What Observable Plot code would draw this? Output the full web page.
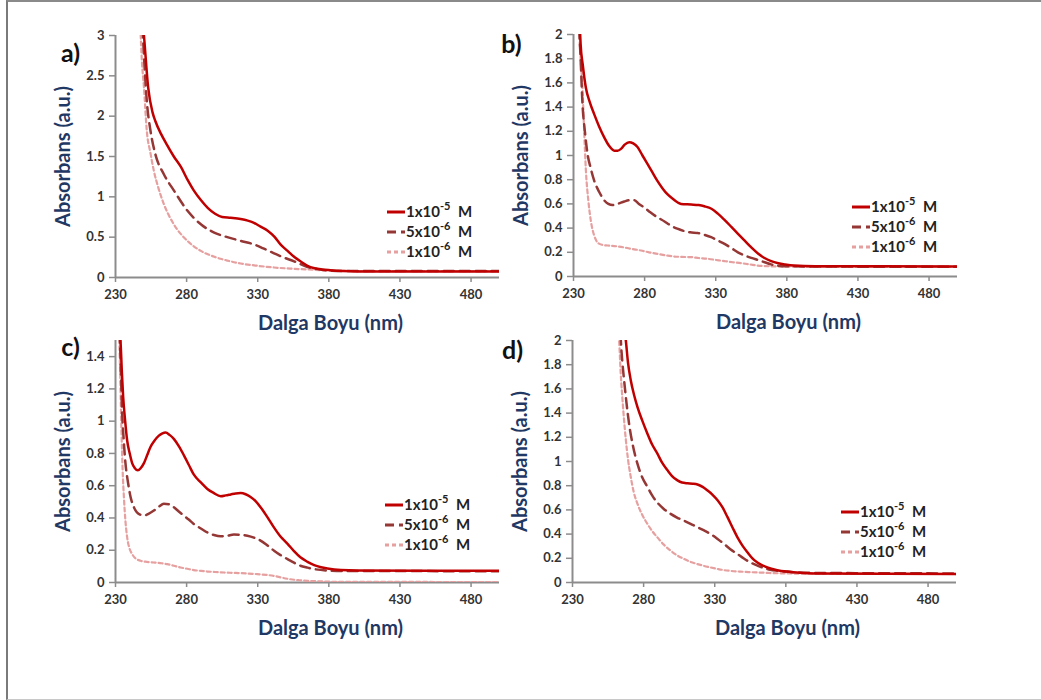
<!DOCTYPE html>
<html>
<head>
<meta charset="utf-8">
<script src="https://cdn.jsdelivr.net/npm/d3@7"></script>
<script src="https://cdn.jsdelivr.net/npm/@observablehq/plot@0.6"></script>
<style>
  html, body { margin: 0; padding: 0; background: #fff; }
  #wrap { position: relative; width: 1041px; height: 700px; overflow: hidden; font-family: Lato, "Open Sans", sans-serif; }
  #frame { position: absolute; left: 6px; top: 0; width: 1100px; height: 697px; border-left: 2px solid #7a7a7a; border-top: 2px solid #8a8a8a; border-bottom: 1px solid #c8c8c8; }
  .panel { position: absolute; }
</style>
</head>
<body>
<div id="wrap"><div id="frame"></div></div>
<script>
// ---------- data (wavelength nm, absorbance) ----------
const xTicks = [230, 280, 330, 380, 430, 480];
const yTicksA = [0, 0.5, 1, 1.5, 2, 2.5, 3];
const yTicksB = [0, 0.2, 0.4, 0.6, 0.8, 1, 1.2, 1.4, 1.6, 1.8, 2];
const yTicksC = [0, 0.2, 0.4, 0.6, 0.8, 1, 1.2, 1.4];
const yTicksD = [0, 0.2, 0.4, 0.6, 0.8, 1, 1.2, 1.4, 1.6, 1.8, 2];
const seriesNames = ["1x10|-5", "5x10|-6", "1x10|-6"];
const panelLetters = ["a)", "b)", "c)", "d)"];
const xTitle = "Dalga Boyu (nm)";
const yTitle = "Absorbans (a.u.)";

const a1e5 = [[249.5,3.1],[250,3.0],[253,2.35],[256,2.05],[258,1.94],[262,1.78],[266,1.65],[271,1.5],[276,1.37],[281,1.2],[285,1.08],[290,0.96],[295,0.86],[300,0.79],[305,0.75],[311,0.74],[318,0.725],[323,0.705],[327,0.68],[332,0.63],[337,0.58],[342,0.5],[346,0.41],[351,0.33],[356,0.25],[361,0.19],[365,0.145],[370,0.115],[375,0.10],[381,0.09],[390,0.08],[400,0.075],[500,0.075]];
const a5e6 = [[249,3.1],[250,2.75],[252,2.19],[254.6,1.82],[258,1.53],[264,1.28],[271,1.08],[280.5,0.83],[290,0.66],[299,0.56],[308.6,0.50],[318,0.455],[327.4,0.41],[334,0.36],[341.5,0.30],[348,0.25],[355.6,0.20],[365,0.13],[374,0.10],[381,0.085],[390,0.08],[500,0.08]];
const a1e6 = [[247.5,3.1],[248.5,2.7],[250,2.36],[252,1.82],[254.5,1.55],[257,1.32],[260,1.12],[264,0.91],[271,0.66],[280.5,0.455],[290,0.33],[299,0.26],[308.6,0.21],[318,0.174],[330,0.145],[341.5,0.124],[353,0.11],[365,0.10],[380,0.085],[400,0.08],[500,0.08]];

const b1e5 = [[234.5,2.05],[235,1.92],[236.5,1.75],[238.7,1.56],[241.5,1.44],[244.6,1.34],[248,1.24],[251.6,1.15],[255,1.08],[258.7,1.04],[261,1.04],[263.4,1.055],[266,1.09],[269.2,1.11],[272,1.1],[275,1.07],[278.5,1.0],[282,0.93],[285.5,0.86],[289,0.79],[292.5,0.73],[296,0.68],[300,0.64],[305.6,0.60],[312.7,0.595],[318,0.59],[322,0.58],[327,0.56],[331.5,0.52],[336,0.47],[341,0.41],[345.5,0.355],[350,0.30],[355,0.24],[359.7,0.19],[364,0.155],[369,0.127],[374,0.11],[378.5,0.10],[385,0.09],[400,0.085],[500,0.083]];
const b5e6 = [[234,2.05],[235,1.8],[236.3,1.43],[238,1.2],[239.9,1.01],[242,0.9],[244.6,0.79],[248,0.7],[251.6,0.63],[254.5,0.6],[257.5,0.59],[261,0.6],[265.7,0.62],[269,0.63],[272.8,0.63],[276,0.6],[279.8,0.57],[284,0.53],[289,0.49],[294,0.455],[298.6,0.42],[303,0.395],[308,0.375],[312,0.365],[317.4,0.36],[322,0.345],[326.8,0.325],[331,0.3],[336.2,0.27],[341,0.235],[345.6,0.20],[350,0.175],[355,0.154],[360,0.135],[364.4,0.118],[369,0.1],[373.8,0.09],[380,0.085],[400,0.083],[500,0.08]];
const b1e6 = [[233.5,2.05],[234,2.0],[235,1.8],[236.3,1.56],[237.5,1.2],[238.7,0.88],[240.5,0.62],[242.2,0.46],[244.5,0.34],[247,0.28],[250,0.262],[254,0.256],[260,0.25],[265.7,0.24],[271,0.228],[277.5,0.215],[283,0.2],[289,0.187],[295,0.175],[301,0.165],[306,0.162],[312.7,0.16],[318,0.153],[324.5,0.146],[330,0.137],[336.2,0.127],[342,0.118],[348,0.11],[354,0.1],[359.7,0.09],[365,0.086],[371.5,0.083],[400,0.08],[500,0.08]];

const c1e5 = [[233,1.55],[233.5,1.5],[234.5,1.3],[235.4,1.15],[236.8,1.0],[238.2,0.88],[240,0.8],[241.7,0.74],[243.5,0.71],[245.7,0.695],[247.8,0.71],[250,0.74],[252.3,0.79],[254.6,0.84],[257.5,0.88],[260.5,0.91],[263,0.925],[265.2,0.93],[268,0.915],[271,0.89],[274.5,0.845],[278,0.79],[281.5,0.73],[285,0.67],[290,0.62],[294.6,0.58],[299,0.555],[304,0.535],[307.5,0.54],[311,0.546],[314.5,0.552],[318,0.554],[321.5,0.547],[325,0.53],[328.5,0.505],[332,0.467],[336.8,0.405],[341.5,0.34],[346,0.285],[351,0.24],[355.5,0.195],[360,0.156],[365,0.128],[369.7,0.108],[374.5,0.095],[379,0.087],[388.5,0.077],[400,0.074],[500,0.073]];
const c5e6 = [[233,1.55],[233.8,1.3],[234.7,1.05],[235.8,0.88],[237,0.74],[238.8,0.62],[240.6,0.53],[242.8,0.47],[245,0.435],[247.5,0.42],[250,0.415],[253.5,0.427],[257,0.446],[260.5,0.47],[264,0.488],[267.5,0.485],[271,0.467],[274.5,0.44],[278,0.415],[281.5,0.39],[285,0.363],[290,0.335],[294.6,0.31],[299,0.295],[304,0.286],[308.5,0.29],[313.3,0.297],[318,0.296],[322.7,0.29],[327.4,0.278],[332,0.26],[336.8,0.23],[341.5,0.197],[346,0.17],[351,0.145],[355.5,0.123],[360,0.104],[365,0.092],[369.7,0.083],[378,0.075],[390,0.072],[500,0.07]];
const c1e6 = [[232.5,1.55],[233,1.4],[234.2,0.94],[235,0.7],[235.9,0.53],[237,0.38],[238.2,0.28],[239.9,0.21],[241.7,0.176],[244,0.15],[247.6,0.135],[252,0.128],[257,0.124],[261.5,0.12],[266.4,0.114],[271,0.104],[275.8,0.093],[280.5,0.085],[285,0.077],[290,0.072],[294.6,0.068],[300,0.065],[306.3,0.062],[312,0.06],[318,0.058],[324,0.055],[329.8,0.052],[336,0.047],[341.5,0.041],[347,0.03],[353,0.02],[359,0.014],[365,0.01],[371,0.008],[376.7,0.006],[390,0.004],[500,0.003]];

const d1e5 = [[267,2.05],[267.5,2.0],[269,1.82],[271,1.67],[273.3,1.55],[275.7,1.45],[279,1.34],[282.7,1.23],[286,1.14],[289.7,1.065],[293,0.99],[296.8,0.927],[300,0.88],[303.8,0.844],[307,0.826],[310.8,0.82],[314.5,0.817],[317.9,0.81],[321.5,0.79],[325,0.76],[328.5,0.725],[332,0.68],[335.5,0.62],[339,0.54],[342.5,0.455],[346,0.373],[349.5,0.305],[353,0.25],[356.5,0.2],[360,0.166],[363.5,0.142],[367,0.124],[370.5,0.111],[374,0.102],[381,0.09],[390,0.08],[400,0.075],[500,0.07]];
const d5e6 = [[263.8,2.05],[264,2.0],[265,1.83],[266.3,1.67],[268,1.48],[269.8,1.31],[272.5,1.13],[275.7,0.98],[279,0.87],[282.7,0.79],[286,0.72],[289.7,0.66],[294,0.61],[299,0.567],[303.8,0.535],[308.5,0.51],[313,0.485],[317.9,0.456],[322.5,0.43],[327.2,0.40],[332,0.36],[336.6,0.318],[341,0.275],[346,0.235],[350.5,0.198],[355,0.166],[360,0.14],[364.7,0.119],[369,0.105],[374,0.097],[382,0.088],[395,0.08],[500,0.075]];
const d1e6 = [[262.5,2.05],[262.8,2.0],[263.8,1.75],[265,1.535],[266.2,1.35],[267.5,1.18],[269,1.02],[271,0.87],[273,0.75],[275.7,0.65],[279,0.56],[282.7,0.484],[286,0.425],[289.7,0.373],[294,0.315],[299,0.263],[303.5,0.225],[308.5,0.194],[313,0.17],[317.9,0.152],[322.5,0.137],[327.2,0.124],[332,0.112],[336.6,0.102],[342,0.095],[348,0.09],[354,0.086],[360,0.083],[366,0.08],[371.7,0.077],[400,0.073],[500,0.07]];

// ---------- styling ----------
const colors = ["#c00000", "#953735", "#e6a0a0"];
const dashes = [null, "10,6", "4,3"];
const widths = [2.5, 2.5, 2.2];
const axisColor = "#8c8c8c";
const titleColor = "#1f3864";
const tickColor = "#333";

const W = 510, H = 335, ML = 115, MR = 11, MT = 35, MB = 58;

const panels = [
  {left: 0,   top: 0,   yDomain: [0, 3],   yTicks: yTicksA, data: [a1e5, a5e6, a1e6], letterDx: -45, letterDy: 18, legRight: 112, legBottom: 65},
  {left: 458, top: -1,  yDomain: [0, 2],   yTicks: yTicksB, data: [b1e5, b5e6, b1e6], letterDx: -62, letterDy: 10, legRight: 105, legBottom: 69},
  {left: 0,   top: 305, yDomain: [0, 1.5], yTicks: yTicksC, data: [c1e5, c5e6, c1e6], letterDx: -45, letterDy: 7,  legRight: 114, legBottom: 77},
  {left: 457, top: 305, yDomain: [0, 2],   yTicks: yTicksD, data: [d1e5, d5e6, d1e6], letterDx: -60, letterDy: 10, legRight: 115, legBottom: 70}
];

const wrap = document.getElementById("wrap");

panels.forEach((p, i) => {
  const lines = p.data.map((s, k) => Plot.line(s, {
    x: d => d[0], y: d => d[1],
    stroke: colors[k], strokeWidth: widths[k],
    strokeDasharray: dashes[k] || undefined,
    curve: "monotone-x", clip: true
  }));
  const svg = Plot.plot({
    width: W, height: H,
    marginLeft: ML, marginRight: MR, marginTop: MT, marginBottom: MB,
    style: {fontFamily: "Lato, 'Open Sans', sans-serif", background: "transparent", overflow: "visible"},
    x: {domain: [230, 500]},
    y: {domain: p.yDomain},
    marks: [
      Plot.axisX(xTicks, {tickSize: 5, tickPadding: 7, fontSize: 13, fontWeight: "bold", fill: tickColor, stroke: axisColor, strokeWidth: 1.5, label: null}),
      Plot.axisY(p.yTicks, {tickSize: 6, tickPadding: 5, fontSize: 13, fontWeight: "bold", fill: tickColor, stroke: axisColor, strokeWidth: 1.5, tickFormat: d => String(d), label: null}),
      Plot.ruleY([0], {stroke: axisColor, strokeWidth: 2}),
      Plot.ruleX([230], {y1: 0, y2: p.yDomain[1], stroke: axisColor, strokeWidth: 2}),
      ...lines.slice().reverse(),
      Plot.text([xTitle], {text: d => d, frameAnchor: "bottom", textAnchor: "middle", lineAnchor: "middle", dx: 23, dy: 46, fontSize: 20, fontWeight: "bold", fill: titleColor}),
      Plot.text([yTitle], {text: d => d, frameAnchor: "left", textAnchor: "middle", lineAnchor: "middle", rotate: -90, dx: -52, fontSize: 20, fontWeight: "bold", fill: titleColor}),
      Plot.text([panelLetters[i]], {text: d => d, frameAnchor: "top-left", textAnchor: "middle", lineAnchor: "middle", dx: p.letterDx, dy: p.letterDy, fontSize: 25, fontWeight: "bold", fill: "#111"})
    ]
  });
  svg.classList.add("panel");
  svg.style.left = p.left + "px";
  svg.style.top = p.top + "px";

  // in-plot legend
  const g = d3.select(svg).append("g")
    .attr("font-family", "Lato, 'Open Sans', sans-serif")
    .attr("font-weight", "bold")
    .attr("text-anchor", "start");
  const x0 = W - MR - p.legRight;
  seriesNames.forEach((name, k) => {
    const y = H - MB - p.legBottom + k * 20;
    g.append("line")
      .attr("x1", x0).attr("x2", x0 + 18).attr("y1", y).attr("y2", y)
      .attr("stroke", colors[k]).attr("stroke-width", 3)
      .attr("stroke-dasharray", dashes[k] ? (k === 1 ? "9,5" : "4,3") : null);
    const [base, exp] = name.split("|");
    const t = g.append("text").attr("x", x0 + 19).attr("y", y).attr("dy", "0.36em")
      .attr("font-size", 15).attr("fill", "#222");
    t.append("tspan").text(base);
    t.append("tspan").attr("font-size", 11).attr("dy", -7).text(exp);
    t.append("tspan").attr("dy", 7).text("\u2002M");
  });

  wrap.appendChild(svg);
});
</script>
</body>
</html>
